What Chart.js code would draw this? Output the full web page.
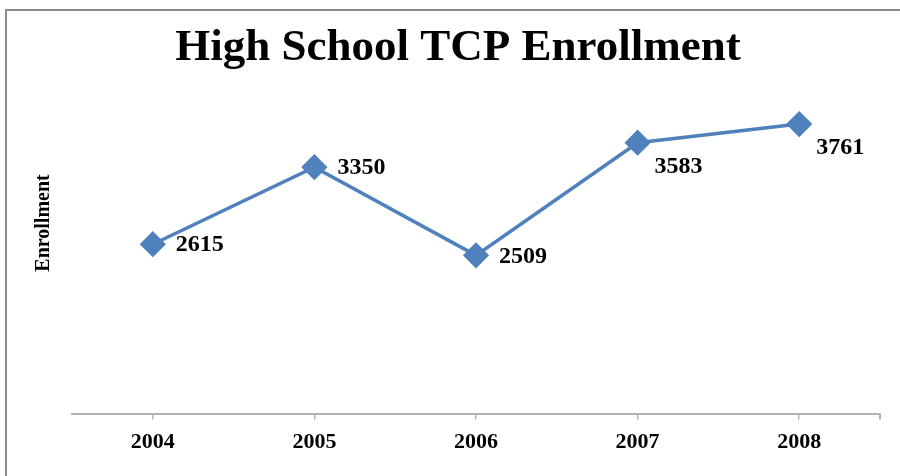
<!DOCTYPE html>
<html>
<head>
<meta charset="utf-8">
<script src="https://cdn.jsdelivr.net/npm/chart.js@4/dist/chart.umd.min.js"></script>
<style>
  html, body { margin: 0; padding: 0; background: #fff; }
  #wrap { width: 900px; height: 476px; position: relative; }
</style>
</head>
<body>
<div id="wrap"><canvas id="mychart" width="900" height="476"></canvas></div>
<script>
// Labels along x-axis
var years = ["2004", "2005", "2006", "2007", "2008"];

// Enrollment per year
var enrollment = [2615, 3350, 2509, 3583, 3761];

var blue = "#4F81BD";
var serif = "'Liberation Serif', 'Times New Roman', serif";

// where each value label sits next to its point
var labelSide = ["right", "right", "right", "below", "below"];

var framePlugin = {
    id: 'frame',
    beforeDraw: function (chart) {
        var c = chart.ctx;
        c.save();
        c.strokeStyle = "#8c8c8c";
        c.lineWidth = 2;
        c.strokeRect(6, 10, 1000, 1000);
        c.restore();
    },
    afterDraw: function (chart) {
        var c = chart.ctx, a = chart.chartArea;
        c.save();
        // closing tick at the right end of the axis
        c.strokeStyle = "#b3b3b3";
        c.lineWidth = 2;
        c.beginPath();
        c.moveTo(a.right, a.bottom);
        c.lineTo(a.right, a.bottom + 6);
        c.stroke();
        // y axis title, placed a bit above the middle like the original
        c.translate(44, 223);
        c.rotate(-Math.PI / 2);
        c.font = "bold 20px " + serif;
        c.fillStyle = "#000";
        c.textAlign = "center";
        c.textBaseline = "middle";
        c.fillText("Enrollment", 0, 0);
        c.restore();
    }
};

var valueLabels = {
    id: 'valueLabels',
    afterDatasetsDraw: function (chart) {
        var c = chart.ctx;
        var pts = chart.getDatasetMeta(0).data;
        c.save();
        c.font = "bold 24px " + serif;
        c.fillStyle = "#000";
        c.textAlign = "left";
        c.textBaseline = "middle";
        pts.forEach(function (p, i) {
            var v = chart.data.datasets[0].data[i];
            if (labelSide[i] === "below") {
                c.fillText(v, p.x + 17, p.y + 24);
            } else {
                c.fillText(v, p.x + 23, p.y + 1);
            }
        });
        c.restore();
    }
};

var ctx = document.getElementById("mychart");

var mychart = new Chart(ctx, {
    type: 'line',
    data: {
        labels: years,
        datasets: [
            {
                data: enrollment,
                label: "Enrollment",
                borderColor: blue,
                backgroundColor: blue,
                borderWidth: 3.5,
                pointStyle: 'rectRot',
                pointRadius: 11,
                pointBorderWidth: 3,
                pointBorderColor: blue,
                pointBackgroundColor: blue,
                tension: 0,
                fill: false
            }
        ]
    },
    options: {
        responsive: false,
        animation: false,
        layout: { padding: { left: 36, right: 20, top: 0, bottom: 10 } },
        plugins: {
            legend: { display: false },
            tooltip: { enabled: false },
            title: {
                display: true,
                text: "High School TCP Enrollment",
                color: "#000",
                font: { family: serif, size: 45, weight: 'bold', lineHeight: 1.2 },
                padding: { top: 21, bottom: 24 }
            }
        },
        scales: {
            x: {
                offset: true,
                grid: {
                    display: true,
                    offset: false,
                    drawOnChartArea: false,
                    drawTicks: true,
                    tickLength: 6,
                    color: "#b3b3b3",
                    lineWidth: 1.5
                },
                border: { display: true, color: "#b3b3b3", width: 2 },
                ticks: {
                    color: "#000",
                    padding: 10,
                    font: { family: serif, size: 22, weight: 'bold', lineHeight: 1.2 }
                }
            },
            y: {
                min: 1000,
                max: 4000,
                grid: { display: false },
                border: { display: false },
                ticks: { display: false },
                afterFit: function (scale) { scale.width = 36; }
            }
        }
    },
    plugins: [framePlugin, valueLabels]
});
</script>
</body>
</html>
